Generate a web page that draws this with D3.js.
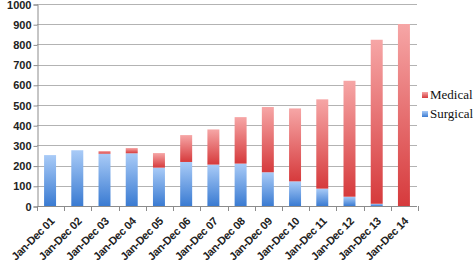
<!DOCTYPE html>
<html>
<head>
<meta charset="utf-8">
<script src="https://cdn.jsdelivr.net/npm/d3@7"></script>
<style>
  body { margin: 0; background: #fff; }
  svg { display: block; }
</style>
</head>
<body>
<svg width="473" height="264"></svg>
<script>
var periods = ["Jan-Dec 01", "Jan-Dec 02", "Jan-Dec 03", "Jan-Dec 04", "Jan-Dec 05",
  "Jan-Dec 06", "Jan-Dec 07", "Jan-Dec 08", "Jan-Dec 09", "Jan-Dec 10",
  "Jan-Dec 11", "Jan-Dec 12", "Jan-Dec 13", "Jan-Dec 14"];
var surgical = [252, 276, 259, 261, 190, 218, 205, 210, 167, 122, 86, 46, 11, 0];
var medical = [0, 0, 13, 26, 72, 133, 174, 230, 323, 361, 442, 574, 812, 901];
var yTicks = [0, 100, 200, 300, 400, 500, 600, 700, 800, 900, 1000];
var seriesNames = ["Medical", "Surgical"];

var svg = d3.select("svg");
var plotL = 37, plotR = 417, plotT = 4, plotB = 206;

var x = d3.scaleBand().domain(periods).range([plotL, plotR]).paddingInner(0.56).paddingOuter(0.26);
var y = d3.scaleLinear().domain([0, 1000]).range([plotB, plotT]);

// gradients
var defs = svg.append("defs");
function grad(id, topCol, botCol) {
  var g = defs.append("linearGradient").attr("id", id)
    .attr("x1", 0).attr("y1", 0).attr("x2", 0).attr("y2", 1);
  g.append("stop").attr("offset", "0%").attr("stop-color", topCol);
  g.append("stop").attr("offset", "100%").attr("stop-color", botCol);
}
grad("gBlue", "#a9cbf7", "#3a7bd2");
grad("gRed", "#f6a6a6", "#d63a3c");

// grid
svg.append("g").selectAll("line").data(yTicks.slice(1)).enter().append("line")
  .attr("x1", plotL).attr("x2", plotR)
  .attr("y1", function (d) { return Math.round(y(d)) + 0.5; })
  .attr("y2", function (d) { return Math.round(y(d)) + 0.5; })
  .attr("stroke", "#b3b3b3").attr("stroke-width", 1);

// y axis
var yAxis = svg.append("g").attr("transform", "translate(" + (plotL + 0.5) + ",0.5)")
  .call(d3.axisLeft(y).tickValues(yTicks).tickFormat(d3.format("d")).tickSize(4).tickPadding(2));
yAxis.select(".domain").attr("stroke", "#8c8c8c");
yAxis.selectAll(".tick line").attr("stroke", "#8c8c8c");
yAxis.selectAll("text").attr("fill", "#222")
  .style("font-family", "'Liberation Sans', Arial, sans-serif")
  .style("font-size", "11px").style("font-weight", "bold");

// bars
var rows = periods.map(function (p, i) {
  return { p: p, s: surgical[i], m: medical[i] };
});
var bars = svg.append("g");
bars.selectAll(".s").data(rows).enter().append("rect")
  .attr("x", function (d) { return x(d.p); })
  .attr("width", x.bandwidth())
  .attr("y", function (d) { return y(d.s); })
  .attr("height", function (d) { return y(0) - y(d.s); })
  .attr("fill", "url(#gBlue)");
bars.selectAll(".m").data(rows).enter().append("rect")
  .attr("x", function (d) { return x(d.p); })
  .attr("width", x.bandwidth())
  .attr("y", function (d) { return y(d.s + d.m); })
  .attr("height", function (d) { return y(d.s) - y(d.s + d.m); })
  .attr("fill", "url(#gRed)");

// x axis
var step = x.step();
var xa = svg.append("g");
xa.append("line").attr("x1", plotL).attr("x2", plotR)
  .attr("y1", plotB + 0.5).attr("y2", plotB + 0.5).attr("stroke", "#8c8c8c");
xa.selectAll(".tk").data(d3.range(periods.length + 1)).enter().append("line")
  .attr("x1", function (i) { return Math.round(plotL + i * step) + 0.5; })
  .attr("x2", function (i) { return Math.round(plotL + i * step) + 0.5; })
  .attr("y1", plotB).attr("y2", plotB + 5).attr("stroke", "#8c8c8c");
xa.selectAll("text").data(periods).enter().append("text")
  .attr("transform", function (d) {
    return "translate(" + (x(d) + x.bandwidth() / 2 + 5) + "," + (plotB + 16) + ")rotate(-45)";
  })
  .attr("text-anchor", "end")
  .attr("fill", "#222")
  .style("font-family", "'Liberation Sans', Arial, sans-serif")
  .style("font-size", "11px").style("font-weight", "bold")
  .style("letter-spacing", "-0.3px")
  .text(function (d) { return d; });

// legend
var legCols = { Medical: "url(#gRed)", Surgical: "url(#gBlue)" };
var leg = svg.append("g");
seriesNames.forEach(function (n, i) {
  var yy = 95 + i * 19;
  leg.append("rect").attr("x", 422).attr("y", yy - 3).attr("width", 6).attr("height", 6)
    .attr("fill", legCols[n]);
  leg.append("text").attr("x", 430).attr("y", yy + 4)
    .attr("fill", "#111")
    .style("font-family", "'Liberation Serif', serif")
    .style("font-size", "13px")
    .text(n);
});
</script>
</body>
</html>
